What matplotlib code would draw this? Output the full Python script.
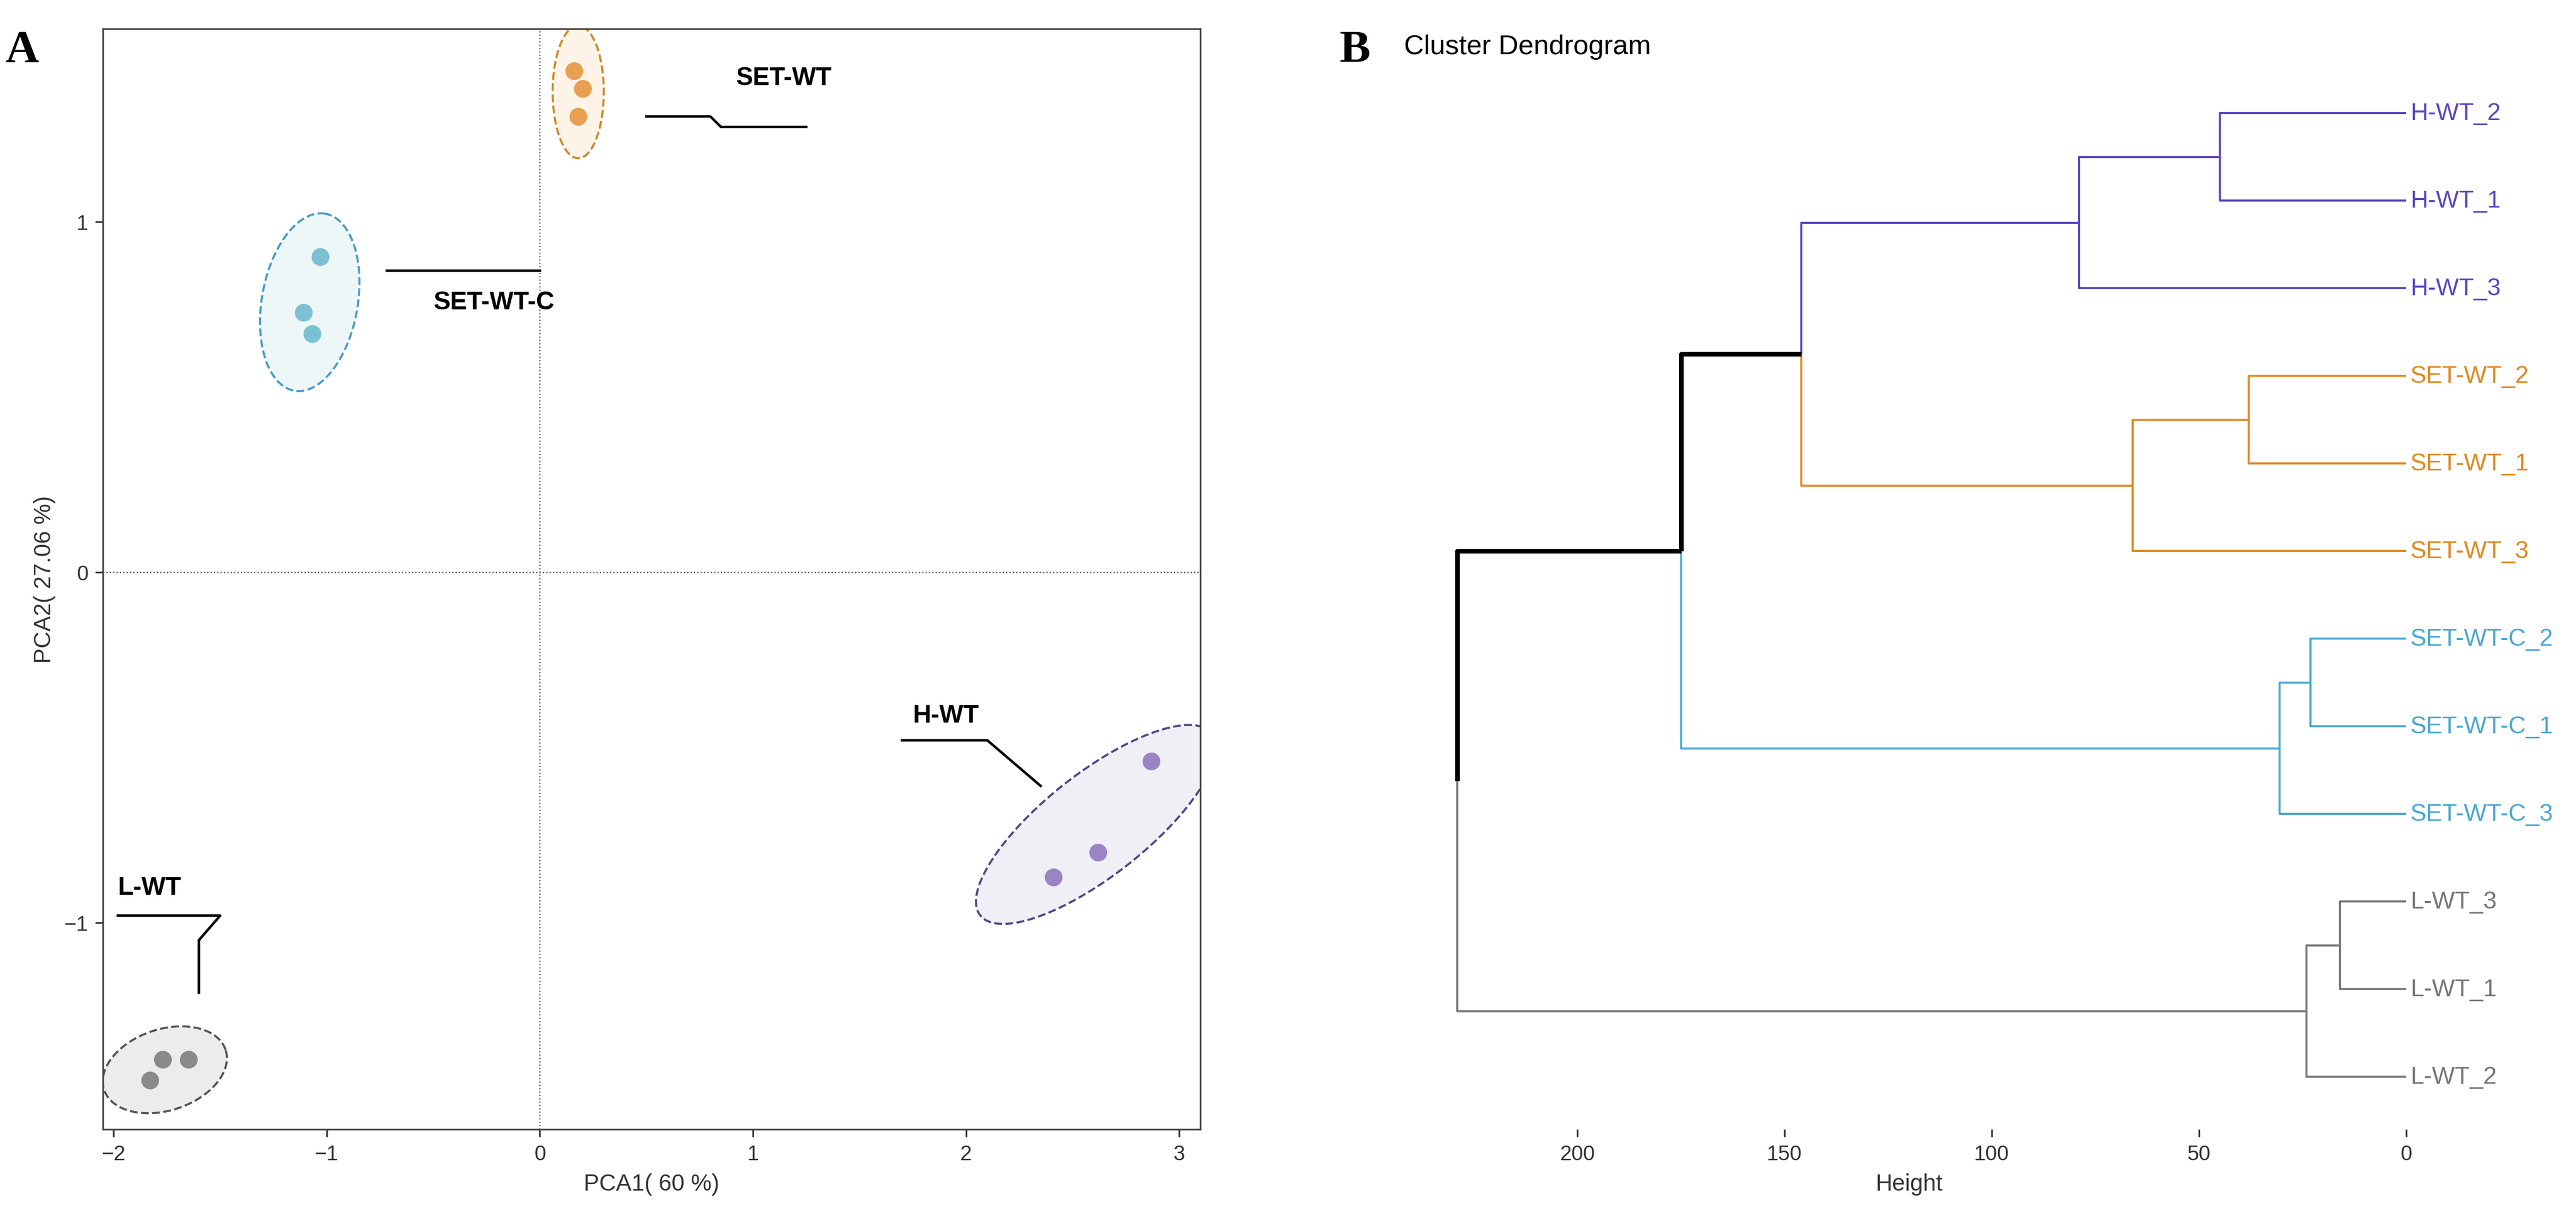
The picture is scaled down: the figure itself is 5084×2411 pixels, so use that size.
import matplotlib.pyplot as plt
from matplotlib.patches import Polygon
import numpy as np

# PCA data
groups = ["SET-WT", "SET-WT-C", "H-WT", "L-WT"]
pc1 = {"SET-WT": [0.16, 0.20, 0.18], "SET-WT-C": [-1.03, -1.11, -1.07],
       "H-WT": [2.87, 2.62, 2.41], "L-WT": [-1.65, -1.77, -1.83]}
pc2 = {"SET-WT": [1.43, 1.38, 1.30], "SET-WT-C": [0.90, 0.74, 0.68],
       "H-WT": [-0.54, -0.80, -0.87], "L-WT": [-1.39, -1.39, -1.45]}
colors = {"SET-WT": "#e8a050", "SET-WT-C": "#7cc0d4", "H-WT": "#9a84c4", "L-WT": "#8a8a8a"}
edge = {"SET-WT": "#d08a2a", "SET-WT-C": "#4a9cc8", "H-WT": "#4a4a8a", "L-WT": "#555555"}
fills = {"SET-WT": "#fdf3e6", "SET-WT-C": "#eef7f8", "H-WT": "#f0eff6", "L-WT": "#ececec"}
# ellipse: center (data), major, minor (screen-scaled), angle (screen deg)
ell = {"SET-WT": (0.18, 1.37, 0.62, 0.24, 90), "SET-WT-C": (-1.08, 0.77, 0.84, 0.45, 80),
       "H-WT": (2.61, -0.72, 1.38, 0.48, 38), "L-WT": (-1.76, -1.42, 0.6, 0.38, 18)}

# dendrogram data
leaves = ["H-WT_2", "H-WT_1", "H-WT_3", "SET-WT_2", "SET-WT_1", "SET-WT_3",
          "SET-WT-C_2", "SET-WT-C_1", "SET-WT-C_3", "L-WT_3", "L-WT_1", "L-WT_2"]
leaf_col = ["#5b45c0"] * 3 + ["#e08a20"] * 3 + ["#4aa8d0"] * 3 + ["#777777"] * 3
merges = [(0, 1, 45), (12, 2, 79), (3, 4, 38), (14, 5, 66), (13, 15, 146),
          (6, 7, 23), (17, 8, 30.5), (16, 18, 175), (9, 10, 16), (20, 11, 24), (19, 21, 229)]

plt.rcParams['font.family'] = ['Liberation Sans', 'DejaVu Sans']
fig = plt.figure(figsize=(16.947, 8.04), dpi=300)

ax = fig.add_axes([0.040, 0.075, 0.426, 0.901])
ax.axhline(0, color="#555555", lw=0.6, ls=":")
ax.axvline(0, color="#555555", lw=0.6, ls=":")
sx, sy = 1.0, 213 / 130  # screen aspect per data unit
t = np.linspace(0, 2 * np.pi, 200)
for g in groups:
    cx, cy, a, b, ang = ell[g]
    r = np.deg2rad(ang)
    u = a / 2 * np.cos(t)
    v = b / 2 * np.sin(t)
    px = u * np.cos(r) - v * np.sin(r)
    py = u * np.sin(r) + v * np.cos(r)
    xy = np.column_stack([cx + px / sx, cy + py / sy])
    ax.add_patch(Polygon(xy, closed=True, facecolor=fills[g], edgecolor=edge[g],
                         ls="--", lw=1.0, zorder=1))
    ax.scatter(pc1[g], pc2[g], s=55, color=colors[g], zorder=3)
lbl = {"SET-WT": ((0.5, 1.3), (0.8, 1.3), (0.85, 1.27), (1.25, 1.27), (0.92, 1.41)),
       "SET-WT-C": ((-0.72, 0.86), (0.0, 0.86), None, None, (-0.5, 0.77)),
       "H-WT": ((2.35, -0.61), (2.1, -0.48), (1.7, -0.48), None, (1.75, -0.41)),
       "L-WT": ((-1.6, -1.2), (-1.6, -1.05), (-1.5, -0.98), (-1.98, -0.98), (-1.98, -0.9))}
for g, (p1, p2, p3, p4, tp) in lbl.items():
    pts = [p for p in (p1, p2, p3, p4) if p is not None]
    ax.plot([p[0] for p in pts], [p[1] for p in pts], color="black", lw=1.2)
    ax.text(tp[0], tp[1], g, fontsize=12, fontweight="bold", ha="left", va="center")
ax.set_xlim(-2.05, 3.1)
ax.set_ylim(-1.59, 1.55)
ax.set_xticks([-2, -1, 0, 1, 2, 3])
ax.set_yticks([-1, 0, 1])
ax.set_xlabel("PCA1( 60 %)", fontsize=11, color="#333333")
ax.set_ylabel("PCA2( 27.06 %)", fontsize=11, color="#333333")
ax.tick_params(labelsize=10, colors="#333333")
for s in ax.spines.values():
    s.set_color("#444444")
fig.text(0.002, 0.975, "A", fontsize=22, fontweight="bold", family="Liberation Serif", va="top")

# dendrogram
bx = fig.add_axes([0.548, 0.075, 0.386, 0.875])
pos = {i: 11 - i for i in range(12)}
ht = {i: 0.0 for i in range(12)}
col = {i: leaf_col[i] for i in range(12)}
for k, (a, b, h) in enumerate(merges):
    n = 12 + k
    pos[n] = (pos[a] + pos[b]) / 2
    ht[n] = h
    col[n] = col[a] if col[a] == col[b] else "black"
    for c in (a, b):
        lw = 2.2 if (col[c] == "black") else 1.0
        bx.plot([ht[c], h, h], [pos[c], pos[c], pos[n]], color=col[c], lw=lw,
                solid_capstyle="butt")
for i, name in enumerate(leaves):
    bx.text(-1, pos[i], name, color=leaf_col[i], fontsize=11.5, va="center", ha="left")
bx.set_xlim(240, 0)
bx.set_ylim(-0.6, 11.6)
bx.set_yticks([])
for s in bx.spines.values():
    s.set_visible(False)
bx.set_xticks([200, 150, 100, 50, 0])
bx.tick_params(labelsize=10, colors="#333333")
bx.set_xlabel("Height", fontsize=11, color="#333333")
fig.text(0.520, 0.975, "B", fontsize=22, fontweight="bold", family="Liberation Serif", va="top")
fig.text(0.545, 0.972, "Cluster Dendrogram", fontsize=13, va="top")

fig.savefig("out.png", dpi=300)
